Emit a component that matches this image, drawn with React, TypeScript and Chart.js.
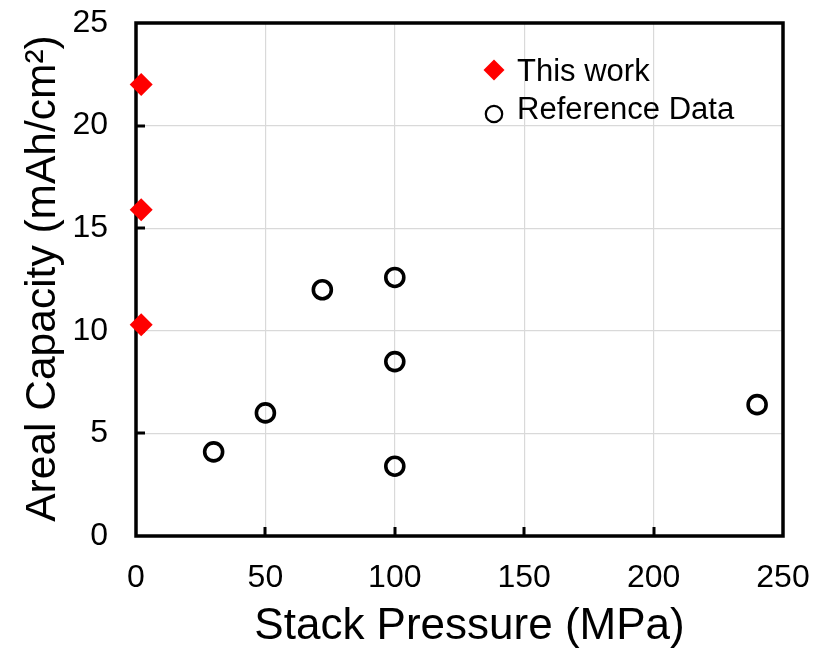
import React, { useEffect, useRef } from "react";
import { Chart, registerables } from "chart.js";

Chart.register(...registerables);

const xTicks = [0, 50, 100, 150, 200, 250];
const yTicks = [0, 5, 10, 15, 20, 25];
const thisWorkX = [2, 2, 2];
const thisWorkY = [22.0, 15.9, 10.3];
const refX = [30, 50, 72, 100, 100, 100, 240];
const refY = [4.1, 6.0, 12.0, 12.6, 8.5, 3.4, 6.4];
const seriesLabels = ["This work", "Reference Data"];
const xTitle = "Stack Pressure (MPa)";
const yTitle = "Areal Capacity (mAh/cm²)";

const FONT = "'Liberation Sans', Arial, Helvetica, sans-serif";

const framePlugin = {
  id: "frameAndLegend",
  beforeDatasetsDraw(chart: any) {
    const { ctx, chartArea, scales } = chart;
    const { left, right, top, bottom } = chartArea;
    const x = scales.x;
    const y = scales.y;
    ctx.save();
    ctx.strokeStyle = "#000";
    ctx.lineWidth = 3;
    ctx.beginPath();
    xTicks.forEach((v) => {
      if (v > xTicks[0] && v < xTicks[xTicks.length - 1]) {
        const px = Math.round(x.getPixelForValue(v));
        ctx.moveTo(px, bottom);
        ctx.lineTo(px, bottom - 9);
      }
    });
    yTicks.forEach((v) => {
      if (v > yTicks[0] && v < yTicks[yTicks.length - 1]) {
        const py = Math.round(y.getPixelForValue(v));
        ctx.moveTo(left, py);
        ctx.lineTo(left + 9, py);
      }
    });
    ctx.stroke();
    ctx.lineWidth = 3.5;
    ctx.strokeRect(left, top, right - left, bottom - top);
    ctx.restore();
  },
  afterDraw(chart: any) {
    const { ctx, chartArea } = chart;
    const { left, right, top, bottom } = chartArea;
    const ds = chart.data.datasets;
    ctx.save();
    // legend
    const mx = left + 358;
    const my1 = top + 47;
    const my2 = top + 91;
    const r = 10.5;
    ctx.fillStyle = "#ff0000";
    ctx.beginPath();
    ctx.moveTo(mx, my1 - r);
    ctx.lineTo(mx + r, my1);
    ctx.lineTo(mx, my1 + r);
    ctx.lineTo(mx - r, my1);
    ctx.closePath();
    ctx.fill();
    ctx.strokeStyle = "#000";
    ctx.lineWidth = 2.2;
    ctx.beginPath();
    ctx.arc(mx, my2, 8.2, 0, Math.PI * 2);
    ctx.stroke();
    ctx.fillStyle = "#000";
    ctx.font = `31px ${FONT}`;
    ctx.textAlign = "left";
    ctx.textBaseline = "alphabetic";
    ctx.fillText(ds[0].label, left + 381, top + 58);
    ctx.fillText(ds[1].label, left + 381, top + 96);
    // axis titles
    ctx.font = `44px ${FONT}`;
    ctx.textAlign = "center";
    ctx.fillText(xTitle, (left + right) / 2 + 10, 639);
    ctx.translate(55, (top + bottom) / 2 - 1);
    ctx.rotate(-Math.PI / 2);
    ctx.font = `42.5px ${FONT}`;
    ctx.fillText(yTitle, 0, 0);
    ctx.restore();
  },
};

export default function App() {
  const canvasRef = useRef<HTMLCanvasElement | null>(null);

  useEffect(() => {
    const canvas = canvasRef.current;
    if (!canvas) return;
    const chart = new Chart(canvas, {
      type: "scatter",
      data: {
        datasets: [
          {
            label: seriesLabels[0],
            data: thisWorkX.map((v, i) => ({ x: v, y: thisWorkY[i] })),
            pointStyle: "rectRot",
            pointRadius: 11.5,
            pointHoverRadius: 11.5,
            backgroundColor: "#ff0000",
            borderColor: "#ff0000",
            borderWidth: 0,
            clip: false,
          },
          {
            label: seriesLabels[1],
            data: refX.map((v, i) => ({ x: v, y: refY[i] })),
            pointStyle: "circle",
            pointRadius: 9,
            pointHoverRadius: 9,
            backgroundColor: "rgba(255,255,255,0)",
            borderColor: "#000",
            borderWidth: 3.6,
            clip: false,
          },
        ],
      },
      options: {
        responsive: false,
        animation: false,
        devicePixelRatio: 1,
        layout: { padding: { left: 0, top: 23, right: 39, bottom: 0 } },
        plugins: {
          legend: { display: false },
          tooltip: { enabled: false },
        },
        scales: {
          x: {
            type: "linear",
            min: xTicks[0],
            max: xTicks[xTicks.length - 1],
            afterBuildTicks: (s: any) => {
              s.ticks = xTicks.map((v) => ({ value: v }));
            },
            afterFit: (s: any) => {
              s.height = 115;
              s.paddingLeft = 0;
              s.paddingRight = 0;
              s.paddingTop = 0;
              s.paddingBottom = 0;
            },
            grid: {
              color: (c: any) =>
                c.tick && (c.tick.value === xTicks[0] || c.tick.value === xTicks[xTicks.length - 1])
                  ? "rgba(0,0,0,0)"
                  : "#d9d9d9",
              lineWidth: 1.2,
              drawTicks: false,
            },
            border: { display: false },
            ticks: {
              color: "#000",
              padding: 23,
              font: { family: FONT, size: 32 },
              maxRotation: 0,
            },
            title: { display: false, text: xTitle },
          },
          y: {
            type: "linear",
            min: yTicks[0],
            max: yTicks[yTicks.length - 1],
            afterBuildTicks: (s: any) => {
              s.ticks = yTicks.map((v) => ({ value: v }));
            },
            afterFit: (s: any) => {
              s.width = 136;
              s.paddingLeft = 0;
              s.paddingRight = 0;
              s.paddingTop = 0;
              s.paddingBottom = 0;
            },
            grid: {
              color: (c: any) =>
                c.tick && (c.tick.value === yTicks[0] || c.tick.value === yTicks[yTicks.length - 1])
                  ? "rgba(0,0,0,0)"
                  : "#d9d9d9",
              lineWidth: 1.2,
              drawTicks: false,
            },
            border: { display: false },
            ticks: {
              color: "#000",
              padding: 28,
              font: { family: FONT, size: 32 },
            },
            title: { display: false, text: yTitle },
          },
        },
      },
      plugins: [framePlugin],
    } as any);
    return () => chart.destroy();
  }, []);

  return (
    <div style={{ position: "absolute", left: 0, top: 0, width: 822, height: 651, background: "#fff" }}>
      <canvas ref={canvasRef} width={822} height={651} style={{ display: "block", width: 822, height: 651 }} />
    </div>
  );
}
